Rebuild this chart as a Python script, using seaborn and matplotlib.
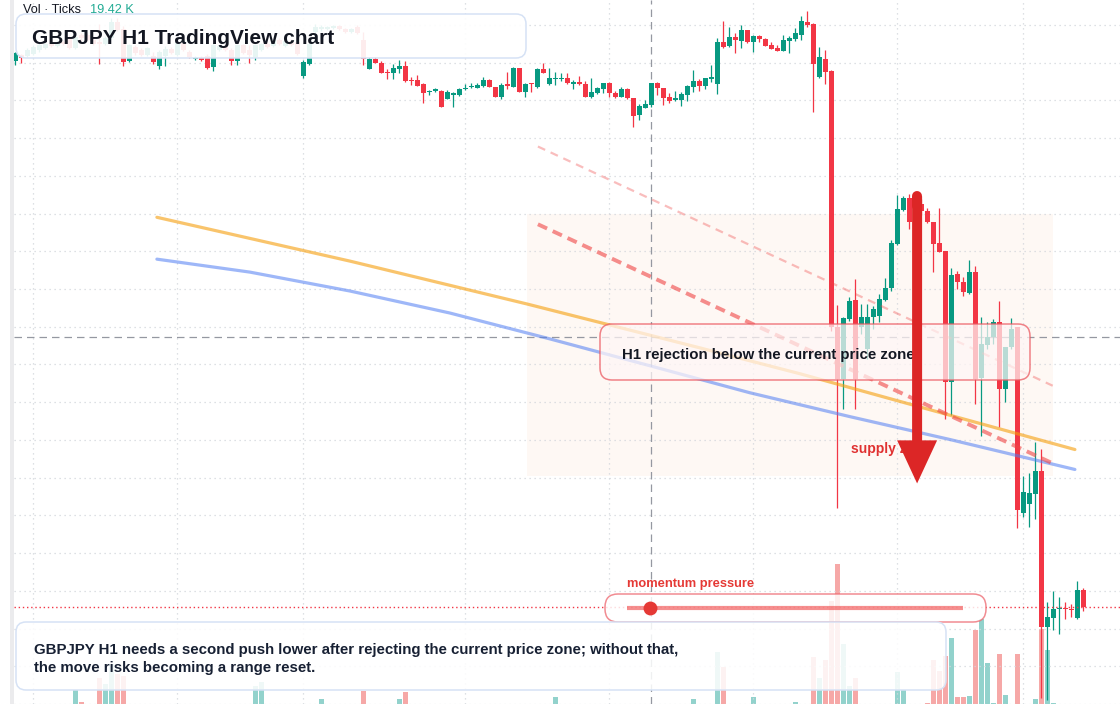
import numpy as np
import pandas as pd
import matplotlib
matplotlib.use("Agg")
import matplotlib.pyplot as plt
import seaborn as sns
from matplotlib.patches import FancyBboxPatch, FancyArrowPatch, Rectangle
from matplotlib.transforms import Affine2D

# GBPJPY H1 candles (one per hour)
opens = [
    200.439, 200.445, 200.444, 200.446, 200.450, 200.452, 200.456, 200.454, 200.458, 200.463,
    200.452, 200.465, 200.465, 200.460, 200.458, 200.456, 200.462, 200.478, 200.471, 200.439,
    200.453, 200.450, 200.445, 200.444, 200.434, 200.444, 200.451, 200.445, 200.457, 200.448,
    200.441, 200.442, 200.444, 200.433, 200.450, 200.454, 200.450, 200.439, 200.455, 200.450,
    200.443, 200.450, 200.456, 200.454, 200.460, 200.454, 200.459, 200.458, 200.424, 200.436,
    200.468, 200.471, 200.471, 200.472, 200.474, 200.471, 200.468, 200.473, 200.460, 200.431,
    200.441, 200.437, 200.428, 200.427, 200.431, 200.434, 200.420, 200.420, 200.416, 200.408,
    200.409, 200.409, 200.401, 200.405, 200.405, 200.411, 200.413, 200.412, 200.414, 200.420,
    200.413, 200.403, 200.416, 200.413, 200.432, 200.408, 200.417, 200.413, 200.431, 200.416,
    200.421, 200.421, 200.422, 200.416, 200.418, 200.416, 200.403, 200.407, 200.411, 200.417,
    200.407, 200.403, 200.411, 200.402, 200.385, 200.392, 200.395, 200.417, 200.412, 200.403,
    200.400, 200.400, 200.405, 200.413, 200.419, 200.414, 200.421, 200.416, 200.458, 200.454,
    200.463, 200.459, 200.470, 200.458, 200.464, 200.461, 200.455, 200.452, 200.449, 200.459,
    200.461, 200.465, 200.478, 200.476, 200.423, 200.441, 200.429, 200.172, 200.120, 200.180,
    200.199, 200.172, 200.150, 200.182, 200.183, 200.199, 200.211, 200.255, 200.289, 200.301,
    200.277, 200.295, 200.288, 200.277, 200.256, 200.248, 200.117, 200.225, 200.217, 200.206,
    200.227, 200.121, 200.154, 200.162, 200.177, 200.110, 200.152, 200.172, 199.985, 199.994,
    200.004, 200.027, 199.871, 199.880, 199.889, 199.890, 199.889, 199.880, 199.908,
]
highs = [
    200.448, 200.446, 200.452, 200.455, 200.457, 200.458, 200.458, 200.460, 200.460, 200.465,
    200.465, 200.467, 200.467, 200.462, 200.476, 200.464, 200.482, 200.482, 200.474, 200.456,
    200.455, 200.452, 200.453, 200.448, 200.450, 200.454, 200.453, 200.460, 200.459, 200.450,
    200.444, 200.444, 200.446, 200.457, 200.455, 200.456, 200.452, 200.456, 200.456, 200.455,
    200.456, 200.457, 200.458, 200.461, 200.462, 200.460, 200.461, 200.460, 200.440, 200.458,
    200.476, 200.475, 200.474, 200.475, 200.475, 200.472, 200.472, 200.475, 200.468, 200.443,
    200.443, 200.439, 200.431, 200.436, 200.440, 200.439, 200.423, 200.425, 200.417, 200.410,
    200.412, 200.410, 200.410, 200.408, 200.412, 200.416, 200.417, 200.417, 200.423, 200.421,
    200.413, 200.417, 200.428, 200.433, 200.432, 200.417, 200.417, 200.432, 200.437, 200.432,
    200.428, 200.427, 200.427, 200.420, 200.424, 200.419, 200.422, 200.413, 200.417, 200.418,
    200.409, 200.413, 200.412, 200.402, 200.396, 200.400, 200.417, 200.418, 200.412, 200.407,
    200.409, 200.408, 200.415, 200.430, 200.421, 200.422, 200.435, 200.462, 200.479, 200.473,
    200.467, 200.475, 200.470, 200.465, 200.465, 200.462, 200.458, 200.455, 200.465, 200.464,
    200.472, 200.484, 200.489, 200.477, 200.453, 200.450, 200.430, 200.194, 200.182, 200.202,
    200.220, 200.195, 200.195, 200.193, 200.205, 200.221, 200.259, 200.304, 200.303, 200.305,
    200.300, 200.300, 200.291, 200.277, 200.291, 200.248, 200.231, 200.228, 200.222, 200.239,
    200.233, 200.182, 200.177, 200.180, 200.198, 200.152, 200.181, 200.172, 200.022, 200.025,
    200.057, 200.050, 199.896, 199.907, 199.901, 199.896, 199.894, 199.917, 199.910,
]
lows = [
    200.435, 200.437, 200.443, 200.445, 200.448, 200.451, 200.453, 200.453, 200.455, 200.451,
    200.451, 200.459, 200.459, 200.455, 200.436, 200.455, 200.461, 200.469, 200.434, 200.438,
    200.445, 200.444, 200.444, 200.436, 200.431, 200.434, 200.446, 200.444, 200.449, 200.442,
    200.440, 200.439, 200.431, 200.429, 200.449, 200.449, 200.435, 200.435, 200.446, 200.437,
    200.440, 200.449, 200.452, 200.453, 200.455, 200.453, 200.454, 200.445, 200.422, 200.435,
    200.466, 200.469, 200.470, 200.471, 200.470, 200.467, 200.467, 200.466, 200.435, 200.431,
    200.437, 200.427, 200.421, 200.421, 200.427, 200.418, 200.415, 200.414, 200.397, 200.405,
    200.408, 200.393, 200.401, 200.393, 200.404, 200.410, 200.412, 200.412, 200.413, 200.413,
    200.403, 200.401, 200.411, 200.413, 200.408, 200.403, 200.408, 200.412, 200.427, 200.415,
    200.415, 200.419, 200.416, 200.411, 200.415, 200.403, 200.402, 200.406, 200.407, 200.403,
    200.402, 200.403, 200.401, 200.373, 200.380, 200.392, 200.393, 200.405, 200.395, 200.397,
    200.399, 200.394, 200.399, 200.408, 200.409, 200.411, 200.418, 200.406, 200.452, 200.453,
    200.447, 200.452, 200.457, 200.448, 200.458, 200.454, 200.451, 200.449, 200.449, 200.447,
    200.459, 200.460, 200.473, 200.388, 200.422, 200.416, 200.168, 199.990, 200.090, 200.178,
    200.090, 200.165, 200.140, 200.170, 200.177, 200.198, 200.208, 200.254, 200.288, 200.270,
    200.272, 200.284, 200.276, 200.227, 200.247, 200.080, 200.084, 200.210, 200.203, 200.205,
    200.095, 200.063, 200.150, 200.155, 200.072, 200.097, 200.150, 199.970, 199.981, 199.971,
    199.979, 199.800, 199.798, 199.868, 199.864, 199.879, 199.881, 199.879, 199.887,
]
closes = [
    200.447, 200.442, 200.450, 200.453, 200.455, 200.456, 200.454, 200.458, 200.456, 200.452,
    200.463, 200.462, 200.460, 200.456, 200.456, 200.462, 200.478, 200.470, 200.438, 200.455,
    200.447, 200.445, 200.452, 200.438, 200.448, 200.451, 200.447, 200.458, 200.450, 200.443,
    200.442, 200.440, 200.432, 200.455, 200.454, 200.450, 200.439, 200.455, 200.447, 200.445,
    200.455, 200.456, 200.453, 200.460, 200.456, 200.459, 200.455, 200.446, 200.438, 200.456,
    200.473, 200.473, 200.473, 200.474, 200.471, 200.468, 200.471, 200.467, 200.441, 200.441,
    200.437, 200.427, 200.427, 200.432, 200.434, 200.419, 200.419, 200.414, 200.407, 200.409,
    200.411, 200.393, 200.408, 200.407, 200.411, 200.412, 200.414, 200.415, 200.420, 200.413,
    200.403, 200.415, 200.414, 200.432, 200.408, 200.416, 200.416, 200.431, 200.427, 200.422,
    200.422, 200.422, 200.417, 200.418, 200.416, 200.403, 200.408, 200.412, 200.417, 200.407,
    200.403, 200.411, 200.402, 200.384, 200.394, 200.396, 200.417, 200.412, 200.402, 200.399,
    200.401, 200.406, 200.414, 200.419, 200.414, 200.422, 200.423, 200.458, 200.453, 200.463,
    200.460, 200.470, 200.458, 200.464, 200.461, 200.454, 200.451, 200.449, 200.460, 200.462,
    200.467, 200.479, 200.475, 200.436, 200.443, 200.428, 200.172, 200.120, 200.181, 200.198,
    200.120, 200.182, 200.182, 200.190, 200.200, 200.211, 200.256, 200.290, 200.301, 200.277,
    200.295, 200.288, 200.277, 200.255, 200.247, 200.117, 200.224, 200.217, 200.207, 200.227,
    200.120, 200.155, 200.162, 200.177, 200.110, 200.152, 200.170, 199.988, 200.006, 200.005,
    200.027, 199.871, 199.881, 199.889, 199.890, 199.889, 199.888, 199.908, 199.891,
]

# tick volume (K) for the bars that show above the bottom of the pane
vol_bars = [10, 11, 14, 15, 16, 17, 18, 40, 41, 51, 58, 64, 65, 90, 113, 117, 118, 123, 130,
            133, 134, 135, 136, 137, 138, 139, 140, 147, 148, 152, 153, 154, 155, 156, 157,
            158, 159, 160, 161, 162, 163, 164, 165, 167, 170, 171, 172, 173]
vol_k = [0.70, 0.10, 1.30, 1.00, 2.00, 1.50, 1.40, 0.90, 1.10, 0.25, 0.65, 0.25, 0.60, 0.35,
         0.25, 2.60, 1.85, 0.35, 0.10, 2.35, 1.30, 2.20, 5.15, 7.00, 3.00, 0.90, 1.30, 1.60,
         0.70, 0.05, 2.20, 1.65, 2.40, 3.30, 0.35, 0.35, 0.40, 3.70, 4.25, 2.05, 0.05, 2.50,
         0.45, 2.50, 0.25, 3.75, 2.70, 0.05]

# moving averages (bar index, price)
slow_ma_bar = [23.6, 55.8, 85.3, 114.1, 130.8, 152.4, 176.6]
slow_ma = [200.282, 200.238, 200.195, 200.151, 200.125, 200.089, 200.049]
fast_ma_bar = [23.6, 39.1, 55.8, 72.4, 89.1, 105.8, 122.4, 139.1, 155.8, 176.6]
fast_ma = [200.240, 200.227, 200.208, 200.186, 200.160, 200.133, 200.106, 200.082, 200.059, 200.029]

# trend lines
upper_trend_bar = [87.1, 172.9]
upper_trend = [200.353, 200.113]
lower_trend_bar = [87.1, 173.3]
lower_trend = [200.275, 200.034]

# supply zone and levels
zone_bars = [85.3, 172.9]
zone_low, zone_high = 200.022, 200.285
cross_bar, cross_price = 106, 200.162
arrow_bar, arrow_top, arrow_tip = 150.3, 200.303, 200.015
day_breaks = [3, 27, 48, 75, 99, 123, 147, 168]

UP, DOWN = "#089981", "#f23645"
W, H = 1120, 704

sns.set_theme(style="white")
plt.rcParams["font.family"] = ["Liberation Sans", "DejaVu Sans"]

fig = plt.figure(figsize=(W / 100, H / 100), dpi=100)
fig.patch.set_facecolor("white")
pane = [14 / W, 0, (W - 14) / W, 1]
vax = fig.add_axes(pane, zorder=0)
ax = fig.add_axes(pane, zorder=1)
ax.patch.set_alpha(0)

# left pane border
fig.add_artist(Rectangle((10 / W, 0), 4 / W, 1, transform=fig.transFigure,
                         color="#ebebed", lw=0))

n = len(opens)
o, h, l, c = map(np.array, (opens, highs, lows, closes))
bars = np.arange(n)
up = c >= o

# volume
vol = np.zeros(n)
vol[vol_bars] = vol_k
vdf = pd.DataFrame({"bar": bars, "vol": vol, "dir": np.where(up, "up", "down")})
sns.barplot(data=vdf, x="bar", y="vol", hue="dir", palette={"up": "#26a69a", "down": "#ef5350"},
            dodge=False, native_scale=True, width=0.8, alpha=0.5, errorbar=None,
            legend=False, saturation=1, linewidth=0, ax=vax)
x_lo, x_hi = (14 - 15.3) / 6, (W - 15.3) / 6
vax.set_xlim(x_lo, x_hi)
vax.set_ylim(0, 35.2)
vax.axis("off")

# price pane
ax.set_xlim(x_lo, x_hi)
ax.set_ylim(200.5 - H / 1000, 200.5)
for s in ax.spines.values():
    s.set_visible(False)
ax.set_xticks(day_breaks)
ax.set_yticks(np.arange(200.475, 199.79, -0.03785))
ax.tick_params(length=0, labelbottom=False, labelleft=False)
ax.grid(True, color="#d3d6dc", lw=0.9, linestyle=(0, (1, 3)))
ax.set_xlabel("")
ax.set_ylabel("")

ax.fill_between(zone_bars, zone_low, zone_high, color="#f97316", alpha=0.045, lw=0, zorder=0.5)
ax.axvline(cross_bar, color="#9598a1", lw=0.9, dashes=(6, 4), zorder=1.6)
ax.axhline(cross_price, color="#9598a1", lw=0.9, dashes=(6, 4), zorder=1.6)

colors = np.where(up, UP, DOWN)
ax.vlines(bars, l, h, colors=colors, lw=0.9, zorder=2)
body_lo = np.minimum(o, c)
body_h = np.maximum(np.abs(c - o), 0.0012)
ax.bar(bars, body_h, bottom=body_lo, width=0.8, color=colors, lw=0, zorder=2.1)

sns.lineplot(x=slow_ma_bar, y=slow_ma, color="#f59e0b", alpha=0.6, lw=2.3, ax=ax, zorder=3)
sns.lineplot(x=fast_ma_bar, y=fast_ma, color="#4f7df3", alpha=0.55, lw=2.3, ax=ax, zorder=3)
ax.plot(upper_trend_bar, upper_trend, color="#ef4444", alpha=0.35, lw=1.6,
        dashes=(3.6, 2.7), zorder=3)
ax.plot(lower_trend_bar, lower_trend, color="#ef4444", alpha=0.6, lw=2.8,
        dashes=(2.6, 1.6), zorder=3)
ax.axhline(closes[-1], color=DOWN, lw=1, linestyle=(0, (1, 2)), zorder=3)

ax.text(139.3, 200.050, "supply zone", color="#e03131", fontsize=10, fontweight="bold",
        va="center", ha="left", zorder=6)

# overlay annotations laid out in pixels (top-left origin)
pix = Affine2D().scale(1, -1).translate(0, H)


def panel(x0, y0, x1, y1, face, edge, r=10):
    ax.add_patch(FancyBboxPatch((x0, y0), x1 - x0, y1 - y0,
                                boxstyle=f"round,pad=0,rounding_size={r}",
                                facecolor=face, edgecolor=edge, lw=1.1,
                                transform=pix, clip_on=False, zorder=5))


panel(16, 14, 526, 58, (1, 1, 1, 0.91), "#d6e2f5")
ax.text(32, 38, "GBPJPY H1 TradingView chart", transform=pix, fontsize=15,
        fontweight="bold", color="#131722", va="center", zorder=6)

panel(600, 324, 1030, 380, (1, 0.965, 0.965, 0.72), (0.92, 0.35, 0.38, 0.75), r=12)
ax.text(622, 355, "H1 rejection below the current price zone", transform=pix,
        fontsize=10.8, fontweight="bold", color="#131722", va="center", zorder=6)

panel(605, 594, 986, 622, (1, 1, 1, 0.82), (0.93, 0.4, 0.43, 0.75), r=13)
ax.plot([627, 963], [608, 608], color="#ef4444", alpha=0.6, lw=3, transform=pix,
        clip_on=False, solid_capstyle="butt", zorder=6)
ax.plot([650], [608], "o", color="#e53935", ms=10, mew=0, transform=pix,
        clip_on=False, zorder=7)
ax.text(627, 584, "momentum pressure", transform=pix, fontsize=9.3,
        fontweight="bold", color="#e53935", va="center", zorder=6)

panel(16, 622, 946, 690, (1, 1, 1, 0.86), "#d6e2f5")
ax.text(34, 659, "GBPJPY H1 needs a second push lower after rejecting the current price zone; "
        "without that,\nthe move risks becoming a range reset.", transform=pix,
        fontsize=10.8, fontweight="bold", color="#172033", va="center",
        linespacing=1.45, zorder=6)

# down arrow through the supply zone
ax.plot([arrow_bar, arrow_bar], [arrow_top, arrow_top - 0.01], color="#dc2626", lw=7.2,
        solid_capstyle="round", zorder=7)
ax.add_patch(FancyArrowPatch((arrow_bar, arrow_top), (arrow_bar, arrow_tip),
                             arrowstyle="simple,head_length=31,head_width=28.8,tail_width=7.2",
                             mutation_scale=1, color="#dc2626", lw=0,
                             shrinkA=0, shrinkB=0, zorder=7))

fig.text(23 / W, 1 - 10 / H, "Vol · Ticks", fontsize=9.2, color="#131722", va="center")
fig.text(90 / W, 1 - 10 / H, "19.42 K", fontsize=9.2, color="#22ab94", va="center")

fig.savefig("out.png", dpi=100)
